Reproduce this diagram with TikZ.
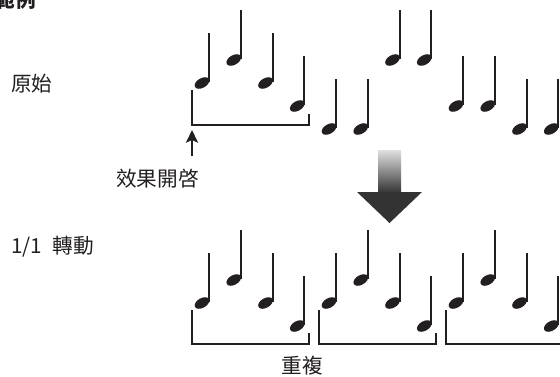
\documentclass[tikz,border=0pt]{standalone}
\usepackage{fontspec}
\setmainfont{Noto Sans CJK TC}
\usetikzlibrary{arrows.meta}
\definecolor{ink}{HTML}{231F20}
\definecolor{darkarrow}{HTML}{333333}
\tikzset{
  lbl/.style={inner sep=0pt, text=ink, font=\fontsize{15.5}{18}\selectfont},
  bracketline/.style={draw=ink, line width=1.4pt},
  qnote/.pic={
    \fill[ink, rotate=30] (0,0) ellipse [x radius=8, y radius=4.8];
    \fill[ink] (6,-1) rectangle (8.2,-50);
  }
}
\begin{document}
\begin{tikzpicture}[x=0.75pt,y=-0.75pt]
\useasboundingbox (0,0) rectangle (560,376);

% labels
\node[lbl, anchor=base east, font=\fontsize{15.5}{18}\selectfont\bfseries] (title) at (36,7.5) {範例};
\node[lbl, anchor=base] (orig) at (32,91.5) {原始};
\node[lbl, anchor=base] (fxon) at (157.5,186.5) {效果開啓};
\node[lbl, anchor=base west] (rot) at (11,253) {1/1\hspace{8pt}轉動};
\node[lbl, anchor=base] (rep) at (302,373.5) {重複};

% top row notes
\foreach \lvl [count=\k from 0] in {2,1,2,3,4,4,1,1,3,3,4,4}{
  \pic at ({202+31.75*\k},{60+23*(\lvl-1)}) {qnote};
}
% bottom row notes
\foreach \lvl [count=\k from 0] in {2,1,2,3,2,1,2,3,2,1,2,3}{
  \pic at ({202+31.75*\k},{280+23*(\lvl-1)}) {qnote};
}

% top bracket
\draw[bracketline] (192,90) -- (192,125) -- (309,125) -- (309,114);
% bottom brackets
\foreach \g in {0,1,2}{
  \draw[bracketline] ({192+127*\g},310) -- ({192+127*\g},344) -- ({309+127*\g},344) -- ({309+127*\g},333);
}

% small arrow
\coordinate (arrS) at (192,156);
\coordinate (arrE) at (192,130);
\draw[ink, line width=1.4pt, -{Stealth[length=9.5pt,width=9pt,inset=2pt]}] (arrS) -- (arrE);

% big arrow
\shade[top color=black!12, bottom color=darkarrow] (378,150) rectangle (401,193);
\fill[darkarrow] (357,192) -- (422,192) -- (389.5,223) -- cycle;
\end{tikzpicture}
\end{document}
